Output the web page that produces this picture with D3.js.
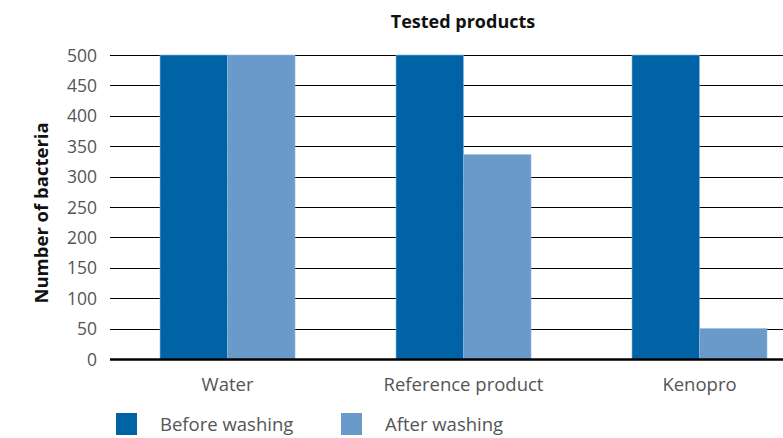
<!DOCTYPE html>
<html>
<head>
<meta charset="utf-8">
<script src="https://cdn.jsdelivr.net/npm/d3@7"></script>
<style>
  body { margin: 0; background: #fff; }
  text { font-family: "Open Sans", "Noto Sans", sans-serif; }
</style>
</head>
<body>
<div id="chart"></div>
<script>
const categories = ["Water", "Reference product", "Kenopro"];
const seriesNames = ["Before washing", "After washing"];
const beforeWashing = [500, 500, 500];
const afterWashing = [500, 336, 50];
const yTicks = [0, 50, 100, 150, 200, 250, 300, 350, 400, 450, 500];
const colors = ["#0063a6", "#6a9aca"];

const width = 783, height = 438;
const margin = { top: 55, left: 110, bottom: 79 };

const svg = d3.select("#chart")
  .append("svg")
  .attr("width", width)
  .attr("height", height);

const x = d3.scaleBand()
  .domain(categories)
  .range([margin.left, 817])
  .paddingInner(0.428)
  .paddingOuter(0.212);

const xInner = d3.scaleBand()
  .domain(seriesNames)
  .range([0, x.bandwidth()]);

const y = d3.scaleLinear()
  .domain([0, 500])
  .range([height - margin.bottom, margin.top]);

// gridlines
svg.append("g")
  .selectAll("line")
  .data(yTicks.filter(d => d > 0))
  .join("line")
  .attr("x1", margin.left)
  .attr("x2", width)
  .attr("y1", d => Math.round(y(d)) + 0.5)
  .attr("y2", d => Math.round(y(d)) + 0.5)
  .attr("stroke", "#000")
  .attr("stroke-width", 1.2);

// y tick labels
svg.append("g")
  .selectAll("text")
  .data(yTicks)
  .join("text")
  .attr("x", 97)
  .attr("y", d => y(d) + 6.5)
  .attr("text-anchor", "end")
  .attr("fill", "#555")
  .attr("font-size", "17.5px")
  .text(d => d);

const rows = categories.map((c, i) => ({
  cat: c,
  values: [beforeWashing[i], afterWashing[i]]
}));

svg.append("g")
  .selectAll("g")
  .data(rows)
  .join("g")
  .attr("transform", d => `translate(${x(d.cat)},0)`)
  .selectAll("rect")
  .data(d => d.values.map((v, j) => ({ key: seriesNames[j], value: v, j })))
  .join("rect")
  .attr("x", d => xInner(d.key))
  .attr("y", d => y(d.value))
  .attr("width", xInner.bandwidth())
  .attr("height", d => y(0) - y(d.value))
  .attr("fill", d => colors[d.j])
  .attr("stroke", "#8fb6dc")
  .attr("stroke-width", 0.6);

// baseline
svg.append("line")
  .attr("x1", margin.left)
  .attr("x2", width)
  .attr("y1", y(0) + 0.5)
  .attr("y2", y(0) + 0.5)
  .attr("stroke", "#000")
  .attr("stroke-width", 2.5);

// category labels
svg.append("g")
  .selectAll("text")
  .data(categories)
  .join("text")
  .attr("x", d => x(d) + x.bandwidth() / 2)
  .attr("y", 391)
  .attr("text-anchor", "middle")
  .attr("fill", "#555")
  .attr("font-size", "18.5px")
  .text(d => d);

// title
svg.append("text")
  .attr("x", 463)
  .attr("y", 28)
  .attr("text-anchor", "middle")
  .attr("font-weight", "bold")
  .attr("font-size", "18px")
  .attr("fill", "#111")
  .text("Tested products");

// y axis label
svg.append("text")
  .attr("transform", `translate(48, ${(y(0) + y(500)) / 2 + 6}) rotate(-90)`)
  .attr("text-anchor", "middle")
  .attr("font-weight", "bold")
  .attr("font-size", "18.5px")
  .attr("fill", "#111")
  .text("Number of bacteria");

// legend
const legendX = [116, 341];
const legend = svg.append("g")
  .selectAll("g")
  .data(seriesNames)
  .join("g")
  .attr("transform", (d, i) => `translate(${legendX[i]}, 413)`);

legend.append("rect")
  .attr("width", 21)
  .attr("height", 22)
  .attr("fill", (d, i) => colors[i]);

legend.append("text")
  .attr("x", 44)
  .attr("y", 18)
  .attr("fill", "#555")
  .attr("font-size", "18.5px")
  .text(d => d);
</script>
</body>
</html>
